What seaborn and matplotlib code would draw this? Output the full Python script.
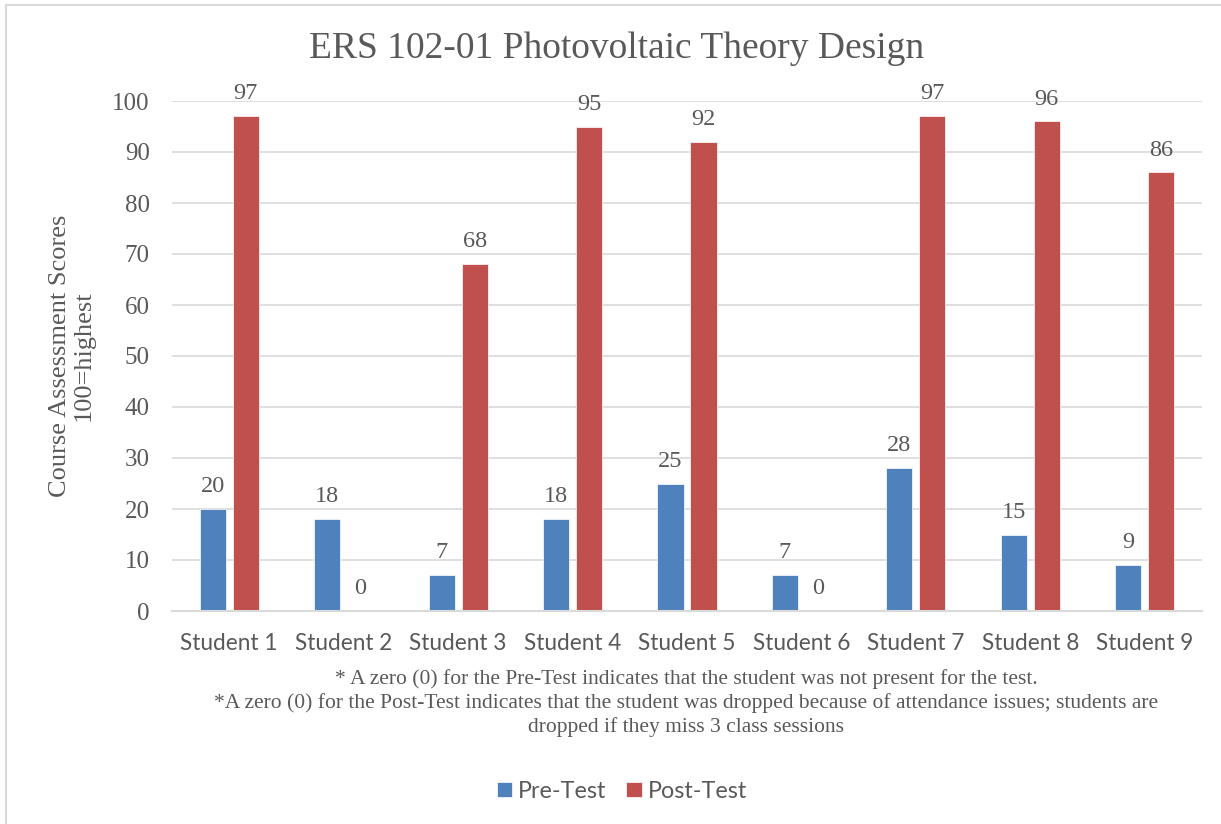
import matplotlib
matplotlib.use("Agg")
import matplotlib.pyplot as plt
from matplotlib.patches import Rectangle
import seaborn as sns
import pandas as pd

students = ["Student 1", "Student 2", "Student 3", "Student 4", "Student 5",
            "Student 6", "Student 7", "Student 8", "Student 9"]
pre_test = [20, 18, 7, 18, 25, 7, 28, 15, 9]
post_test = [97, 0, 68, 95, 92, 0, 97, 96, 86]
series = ["Pre-Test", "Post-Test"]

title = "ERS 102-01 Photovoltaic Theory Design"
y_label = "Course Assessment Scores\n100=highest"
notes = [
    "* A zero (0) for the Pre-Test indicates that the student was not present for the test.",
    "*A zero (0) for the Post-Test indicates that the student was dropped because of attendance issues; students are",
    "dropped if they miss 3 class sessions",
]

BLUE = "#4F81BD"
RED = "#C0504D"
TEXT = "#595959"
GRID = "#D9D9D9"
SERIF = ["Liberation Serif", "DejaVu Serif"]
SANS = ["Lato", "DejaVu Sans"]


def main():
    df = pd.DataFrame({
        "student": students * 2,
        "test": [series[0]] * len(students) + [series[1]] * len(students),
        "score": pre_test + post_test,
    })

    sns.set_style("white")
    plt.rcParams["font.family"] = SERIF

    fig = plt.figure(figsize=(12.21, 8.24), dpi=100)
    ax = fig.add_axes([172 / 1221, 1 - 611 / 824, 1030 / 1221, 510 / 824])

    sns.barplot(data=df, x="student", y="score", hue="test",
                palette=[BLUE, RED], saturation=1, width=0.577, gap=0.21,
                edgecolor="white", linewidth=0.5, ax=ax)

    for cont in ax.containers:
        ax.bar_label(cont, fmt="%g", padding=8.5, fontsize=17.5, color=TEXT,
                     family=SERIF, clip_on=False)

    ax.set_ylim(0, 100)
    ax.set_yticks(range(0, 101, 10))
    ax.set_xlim(-0.5, len(students) - 0.5)
    ax.set_xlabel("")
    ax.set_ylabel("")
    ax.yaxis.grid(True, color=GRID, linewidth=1.2)
    ax.set_axisbelow(True)
    for s in ["left", "right", "top"]:
        ax.spines[s].set_visible(False)
    ax.spines["bottom"].set_color(GRID)
    ax.spines["bottom"].set_linewidth(1.5)
    ax.tick_params(axis="y", length=0, pad=16, labelsize=18, labelcolor=TEXT)
    ax.tick_params(axis="x", length=0, pad=16, labelsize=16.3, labelcolor=TEXT)
    for lab in ax.get_xticklabels():
        lab.set_family(SANS)

    handles, labels = ax.get_legend_handles_labels()
    ax.get_legend().remove()
    fig.legend(handles, labels, loc="center", bbox_to_anchor=(622 / 1221, 1 - 791 / 824),
               ncol=2, frameon=False, handlelength=0.65, handleheight=0.65,
               handletextpad=0.25, columnspacing=0.85,
               prop={"family": SANS, "size": 16.8}, labelcolor=TEXT)

    fig.text(617 / 1221, 1 - 49 / 824, title, ha="center", va="center",
             fontsize=27, color=TEXT, family=SERIF)
    fig.text(72 / 1221, 1 - 356 / 824, y_label, ha="center", va="center",
             rotation=90, fontsize=19, color=TEXT, family=SERIF, linespacing=1.1)

    for txt, cy in zip(notes, [679, 703, 727]):
        fig.text(686 / 1221, 1 - cy / 824, txt, ha="center", va="center",
                 fontsize=15.5, color=TEXT, family=SERIF)

    fig.patches.append(Rectangle((6 / 1221, -0.1), 1.2, 0.1 + (824 - 5) / 824,
                                 transform=fig.transFigure, fill=False,
                                 edgecolor=GRID, linewidth=1.5))

    fig.savefig("out.png", dpi=100)


if __name__ == "__main__":
    main()
